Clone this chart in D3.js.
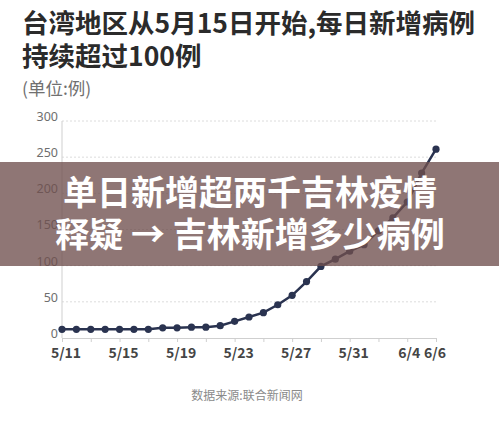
<!DOCTYPE html>
<html>
<head>
<meta charset="utf-8">
<script src="https://cdn.jsdelivr.net/npm/d3@7"></script>
<style>
  body { margin: 0; background: #fff; }
  svg { display: block; font-family: 'Noto Sans CJK SC', 'Noto Sans', sans-serif; }
  .axis path, .axis line { stroke: #cfcfcf; }
  .grid line { stroke: #dcdcdc; stroke-dasharray: 2,2; }
</style>
</head>
<body>
<svg id="chart"></svg>
<script>
// daily values, 5/11 .. 6/6
const days = ['5/11', '5/12', '5/13', '5/14', '5/15', '5/16', '5/17', '5/18', '5/19', '5/20',
  '5/21', '5/22', '5/23', '5/24', '5/25', '5/26', '5/27', '5/28', '5/29', '5/30',
  '5/31', '6/1', '6/2', '6/3', '6/4', '6/5', '6/6'];
const cases = [12, 12, 12, 12, 12, 12, 12, 14, 14, 15,
  15, 17, 23, 29, 35, 46, 59, 78, 99, 109,
  120, 129, 148, 166, 188, 228, 261];
const xLabels = ['5/11', '5/15', '5/19', '5/23', '5/27', '5/31', '6/4', '6/6'];
const yTicks = [0, 50, 100, 150, 200, 250, 300];

const titleLines = ['台湾地区从5月15日开始,每日新增病例', '持续超过100例'];
const unitText = '(单位:例)';
const sourceText = '数据来源:联合新闻网';
const bannerLines = ['单日新增超两千吉林疫情', '释疑 → 吉林新增多少病例'];

const width = 499;
const height = 428;
const margin = {top: 121, bottom: 90, left: 62, right: 63};

const parse = d3.timeParse('%Y/%m/%d');
const toDate = (s) => parse('2021/' + s);

const data = days.map((d, i) => ({date: toDate(d), value: cases[i]}));

const svg = d3.select('#chart')
  .attr('width', width)
  .attr('height', height);

// title
svg.append('g').selectAll('text').data(titleLines).join('text')
  .attr('x', 22)
  .attr('y', (d, i) => 33 + i * 33)
  .attr('font-size', 26.5)
  .attr('font-weight', 'bold')
  .attr('fill', '#2b2b2b')
  .text((d) => d);

svg.append('text')
  .attr('x', 22)
  .attr('y', 95)
  .attr('font-size', 17.5)
  .attr('fill', '#707070')
  .text(unitText);

// scales
const xscale = d3.scaleTime()
  .domain([toDate('5/11'), toDate('6/6')])
  .range([margin.left, width - margin.right]);
const yscale = d3.scaleLinear()
  .domain([0, 300])
  .range([height - margin.bottom, margin.top]);

// dotted grid
svg.append('g').attr('class', 'grid')
  .selectAll('line').data(yTicks.filter((d) => d > 0)).join('line')
  .attr('x1', xscale.range()[0])
  .attr('x2', xscale.range()[1])
  .attr('y1', (d) => yscale(d))
  .attr('y2', (d) => yscale(d));

// y axis
const yaxis = d3.axisLeft(yscale).tickValues(yTicks).tickSize(0).tickPadding(4);
const g_yaxis = svg.append('g').attr('class', 'y axis')
  .attr('transform', `translate(${margin.left},0)`)
  .call(yaxis);
g_yaxis.select('.domain').attr('d', `M0,${yscale(0)}V${yscale(300)}`);
g_yaxis.selectAll('text')
  .attr('font-family', "'Noto Sans', sans-serif")
  .attr('font-size', 12.5)
  .attr('fill', '#6e6e6e')
  .attr('dy', '-0.05em');

// x axis, tick every 2 days
const tickDates = d3.timeDay.range(toDate('5/11'), d3.timeDay.offset(toDate('6/6'), 1), 2);
const xaxis = d3.axisBottom(xscale)
  .tickValues(tickDates)
  .tickSizeInner(4)
  .tickSizeOuter(0)
  .tickFormat(() => '');
svg.append('g').attr('class', 'x axis')
  .attr('transform', `translate(0,${yscale(0)})`)
  .call(xaxis);

// labels sit a bit right of their tick, last one pulled in
const labelShift = (d) => (d === '6/6' ? -1 : d === '6/4' ? 2 : 4);
svg.append('g').selectAll('text').data(xLabels).join('text')
  .attr('x', (d) => xscale(toDate(d)) + labelShift(d))
  .attr('y', 358)
  .attr('text-anchor', 'middle')
  .attr('font-size', 14)
  .attr('font-weight', 'bold')
  .attr('fill', '#454545')
  .text((d) => d);

// line + dots
const line = d3.line().x((d) => xscale(d.date)).y((d) => yscale(d.value));
svg.append('path').datum(data)
  .attr('d', line)
  .attr('fill', 'none')
  .attr('stroke', '#2a3350')
  .attr('stroke-width', 2.5);
svg.append('g').selectAll('circle').data(data).join('circle')
  .attr('cx', (d) => xscale(d.date))
  .attr('cy', (d) => yscale(d.value))
  .attr('r', 3.6)
  .attr('fill', '#2a3350');

svg.append('text')
  .attr('x', 247)
  .attr('y', 400)
  .attr('text-anchor', 'middle')
  .attr('font-size', 12)
  .attr('fill', '#8a8a8a')
  .text(sourceText);

// overlay banner on top of the chart
svg.append('rect')
  .attr('x', 0).attr('y', 162)
  .attr('width', width).attr('height', 104)
  .attr('fill', 'rgba(112,80,78,0.78)');
svg.append('g').selectAll('text').data(bannerLines).join('text')
  .attr('x', 250)
  .attr('y', (d, i) => 205 + i * 42)
  .attr('text-anchor', 'middle')
  .attr('font-size', 34)
  .attr('font-weight', 'bold')
  .attr('fill', '#fff')
  .text((d) => d);
</script>
</body>
</html>
